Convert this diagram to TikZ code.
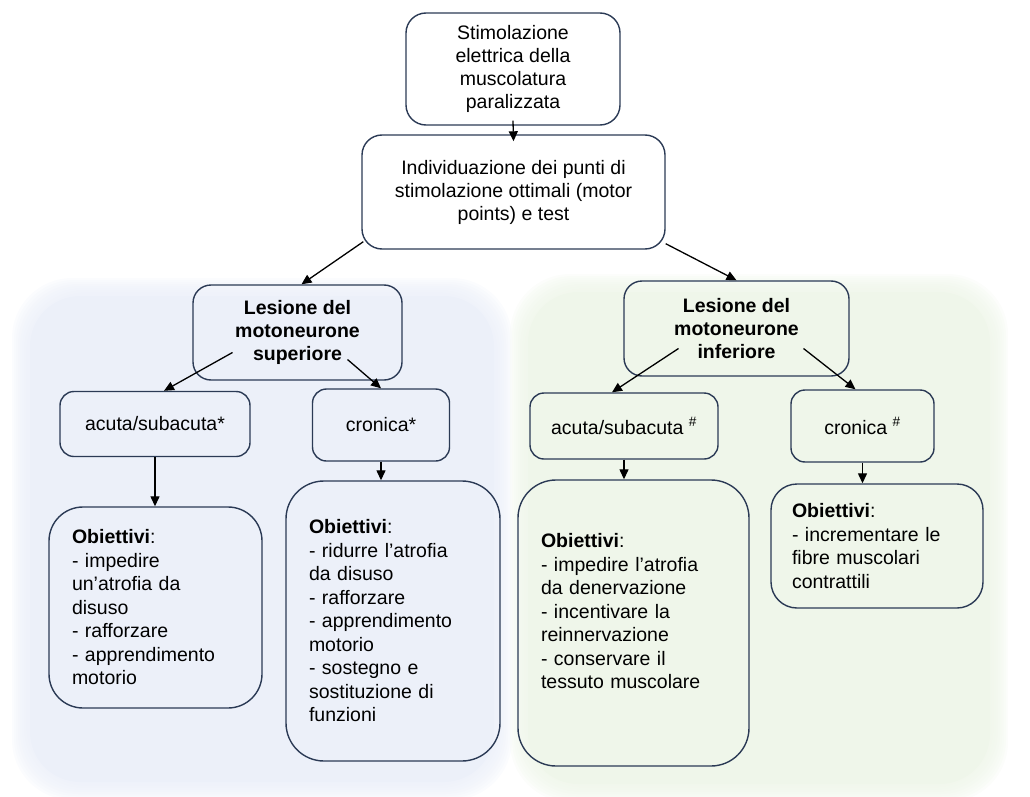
\documentclass[tikz,border=0pt]{standalone}
\usepackage{fontspec}
\setmainfont{Liberation Sans}
\usetikzlibrary{arrows.meta}
\definecolor{boxline}{HTML}{2B3A55}
\definecolor{bluebg}{HTML}{ECF0F9}
\definecolor{greenbg}{HTML}{EFF6EA}
\tikzstyle{boxb}=[draw=boxline,line width=1.4pt,rounded corners=14pt,align=center,inner sep=0pt,font=\fontsize{19.5}{23}\selectfont]
\tikzstyle{lesb}=[boxb,rounded corners=18pt,font=\fontsize{19.5}{23}\selectfont\bfseries]
\tikzstyle{goalb}=[boxb,rounded corners=34pt,align=left,inner xsep=23pt,font=\fontsize{19.5}{23.5}\selectfont]
\tikzstyle{arr}=[-{Triangle[length=10pt,width=9pt]},line width=1.3pt]

\begin{document}
\begin{tikzpicture}[x=1pt,y=-1pt]
    \useasboundingbox (0,0) rectangle (1030,797);
    % soft background areas
    \foreach \d in {0,2,...,18}{
      \fill[bluebg,opacity=.2,rounded corners=60pt] (12+\d,278+\d) rectangle (512-\d,800-\d);
      \fill[greenbg,opacity=.2,rounded corners=60pt] (510+\d,274+\d) rectangle (1008-\d,802-\d);
    }
    \fill[bluebg,rounded corners=50pt] (30,296) rectangle (494,782);
    \fill[greenbg,rounded corners=50pt] (528,292) rectangle (990,784);

    \node[boxb,minimum width=214pt,minimum height=112pt,rounded corners=20pt] (stim) at (513,69) {Stimolazione\\elettrica della\\muscolatura\\paralizzata};
    \node[boxb,minimum width=303pt,minimum height=114pt,rounded corners=20pt] (indiv) at (513.5,192) {Individuazione dei punti di\\stimolazione ottimali (motor\\points) e test};

    \node[lesb,minimum width=209pt,minimum height=95pt] (lsup) at (297.5,332.5) {Lesione del\\motoneurone\\superiore};
    \node[lesb,minimum width=225pt,minimum height=95pt] (linf) at (736.5,328.5) {Lesione del\\motoneurone\\inferiore};

    \node[boxb,minimum width=190pt,minimum height=65pt] (acsup) at (155,424) {acuta/subacuta*};
    \node[boxb,minimum width=137pt,minimum height=72pt] (crsup) at (381,425) {cronica*};
    \node[boxb,minimum width=188pt,minimum height=66pt] (acinf) at (624,426) {acuta/subacuta \textsuperscript{\#}};
    \node[boxb,minimum width=143pt,minimum height=72pt] (crinf) at (862.5,426) {cronica \textsuperscript{\#}};

    \node[goalb,text width=167pt,minimum height=201pt] (obsup1) at (155.5,607.5) {\textbf{Obiettivi}:\\- impedire\\un’atrofia da\\disuso\\- rafforzare\\- apprendimento\\motorio};
    \node[goalb,text width=168pt,minimum height=280pt,rounded corners=38pt] (obsup2) at (393,621) {\textbf{Obiettivi}:\\- ridurre l’atrofia\\da disuso\\- rafforzare\\- apprendimento\\motorio\\- sostegno e\\sostituzione di\\funzioni};
    \node[goalb,text width=185pt,minimum height=286pt,rounded corners=38pt] (obinf1) at (633.5,623) {\textbf{Obiettivi}:\\- impedire l’atrofia\\da denervazione\\- incentivare la\\reinnervazione\\- conservare il\\tessuto muscolare\\\mbox{}};
    \node[goalb,text width=170pt,inner xsep=21pt,minimum height=124pt,rounded corners=26pt] (obinf2) at (877,546) {\textbf{Obiettivi}:\\- incrementare le\\fibre muscolari\\contrattili};

    \draw[arr] ([yshift=5pt]stim.south) -- ([yshift=-7pt]indiv.north);
    \draw[arr] ([xshift=2pt,yshift=8pt]indiv.south west) -- ([xshift=4pt]lsup.north);
    \draw[arr] ([yshift=6pt]indiv.south east) -- (linf.north);
    \draw[arr] ([shift={(-65pt,-20pt)}]lsup.center) -- ([xshift=9pt]acsup.north);
    \draw[arr] ([shift={(50pt,-27pt)}]lsup.center) -- (crsup.north);
    \draw[arr] ([shift={(-58pt,-20pt)}]linf.center) -- ([xshift=-12pt]acinf.north);
    \draw[arr] ([shift={(67pt,-20pt)}]linf.center) -- ([xshift=-7pt]crinf.north);

    \foreach \from/\to in {acsup/obsup1,crsup/obsup2,acinf/obinf1,crinf/obinf2}
    \draw[arr] (\from.south) -- (\from.south |- \to.north);
\end{tikzpicture}
\end{document}
